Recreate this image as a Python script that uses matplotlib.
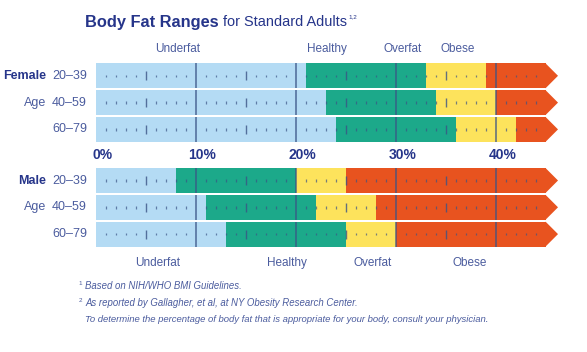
import matplotlib.pyplot as plt
from matplotlib.patches import Polygon

# ranges (percent body fat where each band starts)
age_groups = ['20–39', '40–59', '60–79']
female_healthy = [21, 23, 24]
female_overfat = [33, 34, 36]
female_obese = [39, 40, 42]
male_healthy = [8, 11, 13]
male_overfat = [20, 22, 25]
male_obese = [25, 28, 30]
scale_max = 45
pct_ticks = [0, 10, 20, 30, 40]
band_names = ['Underfat', 'Healthy', 'Overfat', 'Obese']

LIGHT = '#b4dbf4'
GREEN = '#1ca98a'
YELLOW = '#fde35c'
ORANGE = '#e8531f'
NAVY = '#26358a'
BLUE = '#4b5c9e'
TICK = '#3b5486'

plt.rcParams['font.family'] = ['Liberation Sans', 'DejaVu Sans']

fig = plt.figure(figsize=(5.87, 3.52), dpi=100)
ax = fig.add_axes([0, 0, 1, 1])
# x in percent (0% sits at pixel 96, 10 px per percent), y in pixels
ax.set_xlim(-9.6, 49.1)
ax.set_ylim(352, 0)
ax.axis('off')

ROW_H = 25


def fit_width(t, width_px):
    # shrink/grow a text so it spans about width_px pixels
    fig.canvas.draw()
    w = t.get_window_extent().width
    t.set_fontsize(t.get_fontsize() * width_px / w)


def draw_group(rows_y, healthy, overfat, obese):
    for y, h, o, b in zip(rows_y, healthy, overfat, obese):
        ax.barh(y, h, left=0, height=ROW_H, color=LIGHT, lw=0)
        ax.barh(y, o - h, left=h, height=ROW_H, color=GREEN, lw=0)
        ax.barh(y, b - o, left=o, height=ROW_H, color=YELLOW, lw=0)
        ax.barh(y, scale_max - b, left=b, height=ROW_H, color=ORANGE, lw=0)
        # arrow head
        ax.add_patch(Polygon([(scale_max - 0.05, y - ROW_H / 2), (scale_max + 1.2, y),
                              (scale_max - 0.05, y + ROW_H / 2)], closed=True,
                             color=ORANGE, lw=0))
        for p in range(1, scale_max):
            if p % 10 == 0:
                ax.vlines(p, y - ROW_H / 2, y + ROW_H / 2, color=TICK, lw=1.1, alpha=0.85)
            elif p % 5 == 0:
                ax.vlines(p, y - 4.5, y + 4.5, color=TICK, lw=1.0, alpha=0.8)
            else:
                ax.vlines(p, y - 1.3, y + 1.3, color=TICK, lw=0.9, alpha=0.7)


female_y = [75.8, 102.6, 129.4]
male_y = [180.5, 207.3, 234.1]
draw_group(female_y, female_healthy, female_overfat, female_obese)
draw_group(male_y, male_healthy, male_overfat, male_obese)

# row labels
for ys, head in ((female_y, 'Female'), (male_y, 'Male')):
    ax.text(-5.0, ys[0], head, ha='right', va='center', fontsize=9,
            fontweight='bold', color=NAVY)
    ax.text(-5.0, ys[1], 'Age', ha='right', va='center', fontsize=9, color=BLUE)
    for y, lab in zip(ys, age_groups):
        ax.text(-0.9, y, lab, ha='right', va='center', fontsize=9, color=BLUE)

# percent scale between the groups
for p in pct_ticks:
    ax.text(p + 0.65, 155, f'{p}%', ha='center', va='center', fontsize=10,
            fontweight='bold', color=NAVY)

# band names, top (female) and bottom (male)
for name, x in zip(band_names, [8.2, 23.1, 30.7, 36.2]):
    ax.text(x, 49, name, ha='center', va='center', fontsize=8.5, color=BLUE)
for name, x in zip(band_names, [6.2, 19.1, 27.7, 37.4]):
    ax.text(x, 263, name, ha='center', va='center', fontsize=8.5, color=BLUE)

# title
t1 = ax.text(-1.1, 22, 'Body Fat Ranges', ha='left', va='center', fontsize=11,
             fontweight='bold', color=NAVY)
fit_width(t1, 134)
fig.canvas.draw()
bb = t1.get_window_extent().transformed(ax.transData.inverted())
t2 = ax.text(bb.x1 + 0.4, 22.5, 'for Standard Adults', ha='left', va='center',
             fontsize=10, color=NAVY)
fit_width(t2, 124)
fig.canvas.draw()
bb2 = t2.get_window_extent().transformed(ax.transData.inverted())
ax.text(bb2.x1 + 0.2, 17, '1,2', ha='left', va='center', fontsize=4.5, color=NAVY)

# footnotes
notes = ['Based on NIH/WHO BMI Guidelines.',
         'As reported by Gallagher, et al, at NY Obesity Research Center.',
         'To determine the percentage of body fat that is appropriate for your body, consult your physician.']
marks = ['1', '2', '']
widths = [158, 0, 404]
for y, mark, note, w in zip([286, 302.5, 320], marks, notes, widths):
    if mark:
        ax.text(-1.75, y - 2.5, mark, ha='left', va='center', fontsize=4.5, color=BLUE)
    t = ax.text(-1.1, y, note, ha='left', va='center', fontsize=7, style='italic',
                color=BLUE)
    if w:
        fit_width(t, w)
        size = t.get_fontsize()
    else:
        t.set_fontsize(size)

fig.savefig('out.png', dpi=100)
